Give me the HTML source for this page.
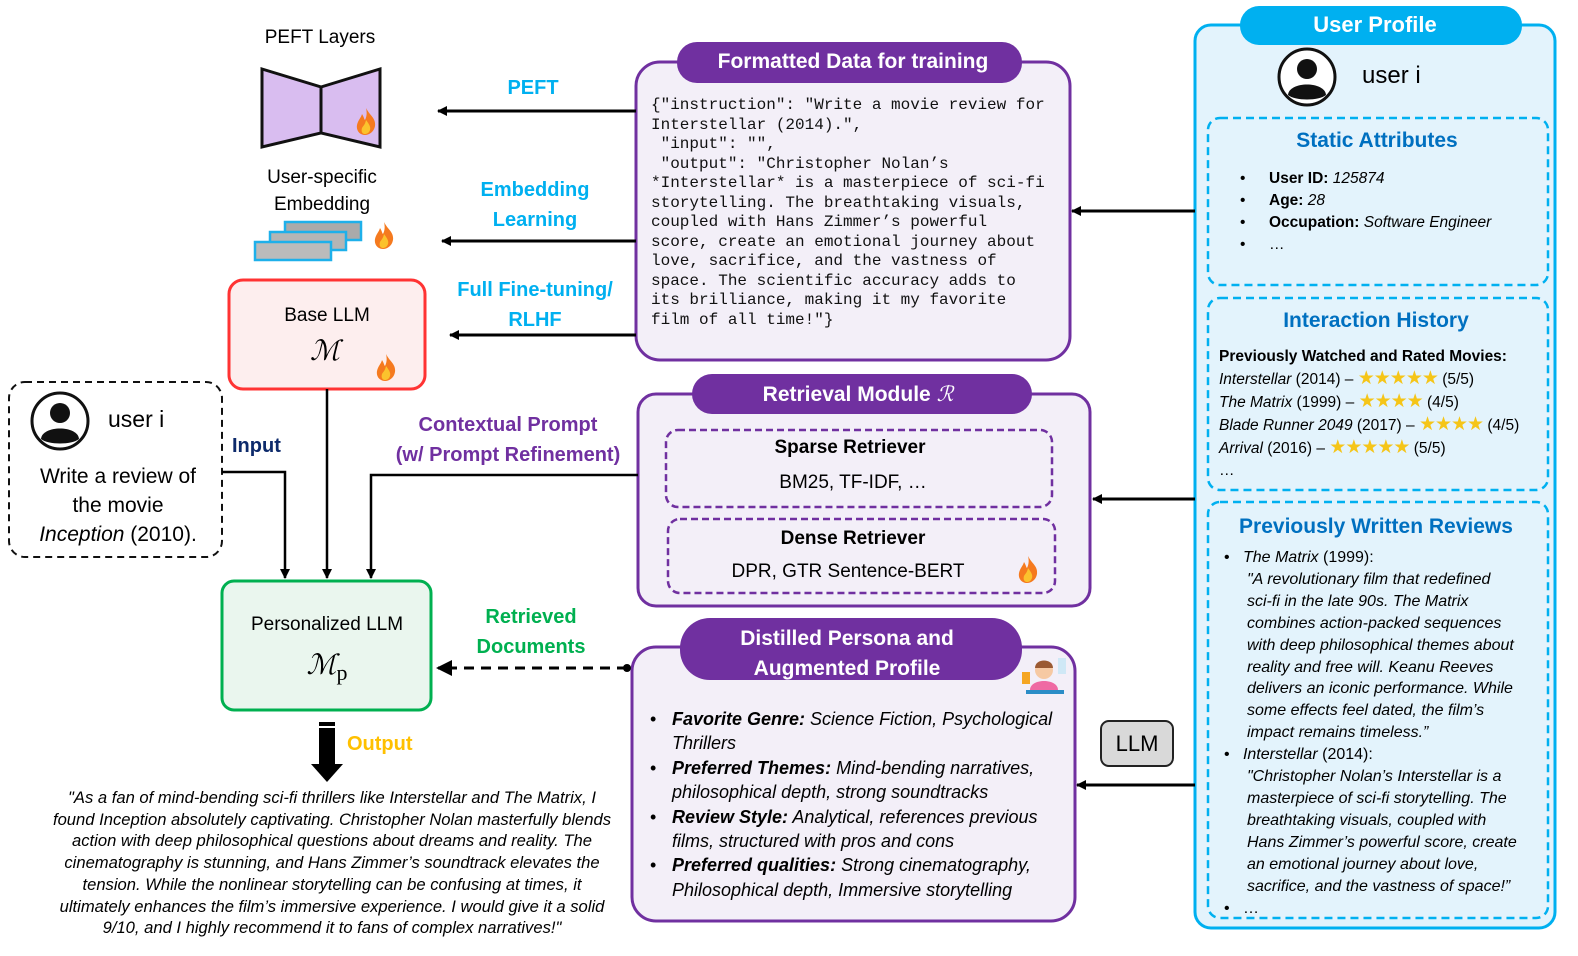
<!DOCTYPE html>
<html><head><meta charset="utf-8"><style>
body{margin:0;width:1578px;height:956px;background:#fff;position:relative;overflow:hidden;font-family:"Liberation Sans",sans-serif}
.t{position:absolute;white-space:nowrap;line-height:1}
.c{transform:translateX(-50%)}
.b{font-weight:bold}
.i{font-style:italic}
.mono{font-family:"Liberation Mono",monospace;font-size:16px;color:#111}
.st{color:#f5c518;font-size:19px;letter-spacing:-1px;font-style:normal}
</style></head><body>
<svg width="1578" height="956" style="position:absolute;left:0;top:0">
<defs>
<marker id="ah" markerWidth="10" markerHeight="10" refX="9" refY="5" orient="auto" markerUnits="userSpaceOnUse"><path d="M0,0 L10,5 L0,10 z" fill="#000"/></marker>
<g id="flame"><path d="M10,0 C14,8 20,10 19,18 C18,24 13,27 9,27 C4,27 0,23 1,17 C2,12 5,10 6,6 C8,9 8,11 9,12 C11,8 11,4 10,0z" fill="#f57a1f"/><path d="M10,12 C13,16 15,19 14,22 C13,25 11,26 9,26 C6,26 5,23 6,20 C7,18 9,17 10,12z" fill="#fbc22d"/></g>
<g id="user"><circle cx="0" cy="0" r="28" fill="#fff" stroke="#111" stroke-width="3"/><circle cx="0" cy="-8" r="10" fill="#111"/><path d="M-19,18 C-18,4 18,4 19,18 C12,24 -12,24 -19,18z" fill="#111"/></g>
</defs>
<rect x="1195" y="25" width="360" height="903" rx="16" fill="#e3f3fc" stroke="#00b0f0" stroke-width="3"/>
<rect x="1240" y="6" width="282" height="39" rx="19" fill="#00b0f0"/>
<use href="#user" x="1307" y="77"/>
<rect x="1208" y="118" width="340" height="167" rx="12" fill="none" stroke="#00b0f0" stroke-width="2.5" stroke-dasharray="8,5"/>
<rect x="1208" y="298" width="340" height="192" rx="12" fill="none" stroke="#00b0f0" stroke-width="2.5" stroke-dasharray="8,5"/>
<rect x="1208" y="502" width="340" height="416" rx="12" fill="none" stroke="#00b0f0" stroke-width="2.5" stroke-dasharray="8,5"/>
<rect x="636" y="62" width="434" height="298" rx="24" fill="#f3eff8" stroke="#7030a0" stroke-width="3"/>
<rect x="677" y="42" width="345" height="41" rx="20" fill="#7030a0"/>
<rect x="638" y="394" width="452" height="212" rx="18" fill="#f3eff8" stroke="#7030a0" stroke-width="3"/>
<rect x="692" y="374" width="340" height="40" rx="20" fill="#7030a0"/>
<rect x="666" y="430" width="386" height="77" rx="12" fill="none" stroke="#7030a0" stroke-width="2.5" stroke-dasharray="7,4"/>
<rect x="668" y="519" width="387" height="74" rx="12" fill="none" stroke="#7030a0" stroke-width="2.5" stroke-dasharray="7,4"/>
<use href="#flame" x="1018" y="556"/>
<rect x="632" y="647" width="443" height="274" rx="24" fill="#f3eff8" stroke="#7030a0" stroke-width="3"/>
<rect x="680" y="618" width="342" height="62" rx="30" fill="#7030a0"/>
<g transform="translate(1022,656)"><rect x="4" y="34" width="38" height="4" fill="#2b8dc7"/><path d="M8,34 C8,22 36,22 36,34z" fill="#ef6aa3"/><circle cx="22" cy="14" r="9" fill="#f6c9a3"/><path d="M13,12 C13,2 31,2 31,12z" fill="#9b5a33"/><rect x="0" y="16" width="8" height="12" fill="#f5a623"/><rect x="36" y="2" width="8" height="16" fill="#cfe8f6"/></g>
<rect x="1101" y="721" width="72" height="45" rx="8" fill="#d9d9d9" stroke="#222" stroke-width="2"/>
<line x1="1195" y1="211" x2="1072" y2="211" stroke="#000" stroke-width="3" marker-end="url(#ah)"/>
<line x1="1195" y1="499" x2="1093" y2="499" stroke="#000" stroke-width="3" marker-end="url(#ah)"/>
<line x1="1195" y1="785" x2="1077" y2="785" stroke="#000" stroke-width="3" marker-end="url(#ah)"/>
<line x1="636" y1="111" x2="438" y2="111" stroke="#000" stroke-width="3" marker-end="url(#ah)"/>
<line x1="636" y1="241" x2="442" y2="241" stroke="#000" stroke-width="3" marker-end="url(#ah)"/>
<line x1="636" y1="335" x2="450" y2="335" stroke="#000" stroke-width="3" marker-end="url(#ah)"/>
<path d="M262,69 L321,87 L321,133 L262,147z" fill="#d9bdf0" stroke="#111" stroke-width="3"/>
<path d="M321,87 L380,69 L380,147 L321,133z" fill="#d9bdf0" stroke="#111" stroke-width="3"/>
<use href="#flame" x="356" y="108"/>
<rect x="285" y="222" width="76" height="18" fill="#aaa" stroke="#1eb0ea" stroke-width="2.5"/>
<rect x="270" y="232" width="76" height="18" fill="#b5b5b5" stroke="#1eb0ea" stroke-width="2.5"/>
<rect x="255" y="242" width="76" height="18" fill="#bbb" stroke="#1eb0ea" stroke-width="2.5"/>
<use href="#flame" x="374" y="222"/>
<rect x="229" y="280" width="196" height="109" rx="14" fill="#fdeeee" stroke="#ff3333" stroke-width="3"/>
<use href="#flame" x="376" y="354"/>
<rect x="9" y="382" width="213" height="175" rx="16" fill="#fff" stroke="#111" stroke-width="2" stroke-dasharray="7,5"/>
<use href="#user" x="60" y="421"/>
<rect x="222" y="581" width="209" height="129" rx="12" fill="#eaf6ee" stroke="#00b050" stroke-width="3"/>
<polyline points="222,472 285,472 285,578" fill="none" stroke="#000" stroke-width="2.5" marker-end="url(#ah)"/>
<line x1="327" y1="389" x2="327" y2="578" stroke="#000" stroke-width="2.5" marker-end="url(#ah)"/>
<polyline points="638,475 371,475 371,578" fill="none" stroke="#000" stroke-width="2.5" marker-end="url(#ah)"/>
<line x1="627" y1="668" x2="438" y2="668" stroke="#000" stroke-width="3" stroke-dasharray="10,7"/>
<path d="M436,668 L452,660 L452,676z" fill="#000"/>
<circle cx="627" cy="668" r="4" fill="#000"/>
<rect x="319" y="722" width="16" height="4" fill="#000"/>
<rect x="319" y="728" width="16" height="38" fill="#000"/>
<path d="M311,764 L343,764 L327,782z" fill="#000"/>
</svg>

<div class="t c" style="left:320px;top:28px;font-size:19px">PEFT Layers</div>
<div class="t c" style="left:322px;top:164px;font-size:19px;line-height:27px;text-align:center">User-specific<br>Embedding</div>
<div class="t c b" style="left:533px;top:78px;font-size:20px;color:#00b0f0">PEFT</div>
<div class="t c b" style="left:535px;top:175px;font-size:20px;color:#00b0f0;line-height:30px;text-align:center">Embedding<br>Learning</div>
<div class="t c b" style="left:535px;top:275px;font-size:20px;color:#00b0f0;line-height:30px;text-align:center">Full Fine-tuning/<br>RLHF</div>
<div class="t c" style="left:327px;top:306px;font-size:19px">Base LLM</div>
<div class="t c" style="left:325px;top:338px;font-size:28px;font-family:'Liberation Serif',serif;font-style:italic">ℳ</div>
<div class="t" style="left:108px;top:408px;font-size:23px">user i</div>
<div class="t c" style="left:118px;top:462px;font-size:21px;line-height:29px;text-align:center">Write a review of<br>the movie<br><i>Inception</i> (2010).</div>
<div class="t b" style="left:232px;top:436px;font-size:20px;color:#0d2a6b">Input</div>
<div class="t c b" style="left:508px;top:410px;font-size:20px;color:#7030a0;line-height:30px;text-align:center">Contextual Prompt<br>(w/ Prompt Refinement)</div>
<div class="t c" style="left:327px;top:615px;font-size:19px">Personalized LLM</div>
<div class="t c" style="left:327px;top:652px;font-size:28px;font-family:'Liberation Serif',serif;font-style:italic">ℳ<span style="font-style:normal;font-size:22px;vertical-align:-6px">p</span></div>
<div class="t c b" style="left:531px;top:602px;font-size:20px;color:#00b050;line-height:30px;text-align:center">Retrieved<br>Documents</div>
<div class="t b" style="left:347px;top:734px;font-size:20px;color:#ffc000">Output</div>
<div class="t c i" style="left:332px;top:787px;font-size:16.6px;line-height:21.7px;text-align:center">"As a fan of mind-bending sci-fi thrillers like Interstellar and The Matrix, I<br>found Inception absolutely captivating. Christopher Nolan masterfully blends<br>action with deep philosophical questions about dreams and reality. The<br>cinematography is stunning, and Hans Zimmer’s soundtrack elevates the<br>tension. While the nonlinear storytelling can be confusing at times, it<br>ultimately enhances the film’s immersive experience. I would give it a solid<br>9/10, and I highly recommend it to fans of complex narratives!"</div>

<div class="t c b" style="left:853px;top:51px;font-size:21px;color:#fff">Formatted Data for training</div>
<div class="t mono" style="left:651px;top:96px;line-height:19.5px">{"instruction": "Write a movie review for<br>Interstellar (2014).",<br>&nbsp;"input": "",<br>&nbsp;"output": "Christopher Nolan’s<br>*Interstellar* is a masterpiece of sci-fi<br>storytelling. The breathtaking visuals,<br>coupled with Hans Zimmer’s powerful<br>score, create an emotional journey about<br>love, sacrifice, and the vastness of<br>space. The scientific accuracy adds to<br>its brilliance, making it my favorite<br>film of all time!"}</div>

<div class="t c b" style="left:858px;top:384px;font-size:21px;color:#fff">Retrieval Module <i style="font-family:'Liberation Serif',serif;font-weight:normal">ℛ</i></div>
<div class="t c b" style="left:850px;top:438px;font-size:19px">Sparse Retriever</div>
<div class="t c" style="left:853px;top:473px;font-size:19px">BM25, TF-IDF, …</div>
<div class="t c b" style="left:853px;top:529px;font-size:19px">Dense Retriever</div>
<div class="t c" style="left:848px;top:562px;font-size:19px">DPR, GTR Sentence-BERT</div>

<div class="t c b" style="left:847px;top:624px;font-size:21px;color:#fff;line-height:30px;text-align:center">Distilled Persona and<br>Augmented Profile</div>
<div class="t i" style="left:650px;top:707px;font-size:18px;line-height:24.4px">
<span style="display:inline-block;width:22px;font-style:normal">•</span><b>Favorite Genre:</b> Science Fiction, Psychological<br>
<span style="display:inline-block;width:22px"></span>Thrillers<br>
<span style="display:inline-block;width:22px;font-style:normal">•</span><b>Preferred Themes:</b> Mind-bending narratives,<br>
<span style="display:inline-block;width:22px"></span>philosophical depth, strong soundtracks<br>
<span style="display:inline-block;width:22px;font-style:normal">•</span><b>Review Style:</b> Analytical, references previous<br>
<span style="display:inline-block;width:22px"></span>films, structured with pros and cons<br>
<span style="display:inline-block;width:22px;font-style:normal">•</span><b>Preferred qualities:</b> Strong cinematography,<br>
<span style="display:inline-block;width:22px"></span>Philosophical depth, Immersive storytelling</div>
<div class="t c" style="left:1137px;top:733px;font-size:22px">LLM</div>

<div class="t c b" style="left:1375px;top:14px;font-size:22px;color:#fff">User Profile</div>
<div class="t" style="left:1362px;top:64px;font-size:24px">user i</div>
<div class="t c b" style="left:1377px;top:130px;font-size:21px;color:#0070c0">Static Attributes</div>
<div class="t" style="left:1240px;top:168px;font-size:15.5px;line-height:22px">•<br>•<br>•<br>•</div>
<div class="t" style="left:1269px;top:168px;font-size:15.5px;line-height:22px"><b>User ID:</b> <i>125874</i><br><b>Age:</b> <i>28</i><br><b>Occupation:</b> <i>Software Engineer</i><br>…</div>
<div class="t c b" style="left:1376px;top:310px;font-size:21px;color:#0070c0">Interaction History</div>
<div class="t" style="left:1219px;top:346px;font-size:15.5px;line-height:22px"><b>Previously Watched and Rated Movies:</b><br><i>Interstellar</i> (2014) – <span class="st">★★★★★</span> (5/5)<br><i>The Matrix</i> (1999) – <span class="st">★★★★</span> (4/5)<br><i>Blade Runner 2049</i> (2017) – <span class="st">★★★★</span> (4/5)<br><i>Arrival</i> (2016) – <span class="st">★★★★★</span> (5/5)<br>…</div>
<div class="t c b" style="left:1376px;top:516px;font-size:21px;color:#0070c0">Previously Written Reviews</div>
<div class="t i" style="left:1224px;top:547px;font-size:16px;line-height:21.9px"><span style="font-style:normal">•</span>&nbsp;&nbsp;&nbsp;<i>The Matrix</i> <span style="font-style:normal">(1999):</span><br>
<span style="padding-left:23px">"A revolutionary film that redefined</span><br>
<span style="padding-left:23px">sci-fi in the late 90s. The Matrix</span><br>
<span style="padding-left:23px">combines action-packed sequences</span><br>
<span style="padding-left:23px">with deep philosophical themes about</span><br>
<span style="padding-left:23px">reality and free will. Keanu Reeves</span><br>
<span style="padding-left:23px">delivers an iconic performance. While</span><br>
<span style="padding-left:23px">some effects feel dated, the film’s</span><br>
<span style="padding-left:23px">impact remains timeless.”</span><br>
<span style="font-style:normal">•</span>&nbsp;&nbsp;&nbsp;<i>Interstellar</i> <span style="font-style:normal">(2014):</span><br>
<span style="padding-left:23px">"Christopher Nolan’s Interstellar is a</span><br>
<span style="padding-left:23px">masterpiece of sci-fi storytelling. The</span><br>
<span style="padding-left:23px">breathtaking visuals, coupled with</span><br>
<span style="padding-left:23px">Hans Zimmer’s powerful score, create</span><br>
<span style="padding-left:23px">an emotional journey about love,</span><br>
<span style="padding-left:23px">sacrifice, and the vastness of space!”</span><br>
<span style="font-style:normal">•</span>&nbsp;&nbsp;&nbsp;<span style="font-style:normal">…</span></div>
</body></html>
